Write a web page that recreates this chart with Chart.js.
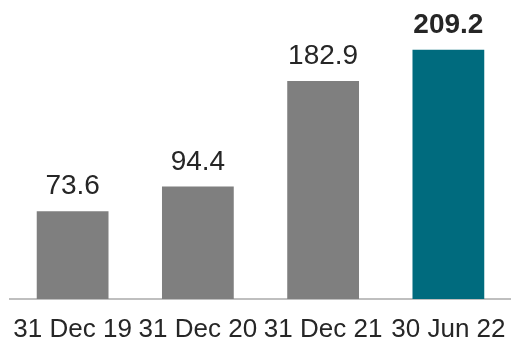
<!DOCTYPE html>
<html>
<head>
<meta charset="utf-8">
<script src="https://cdn.jsdelivr.net/npm/chart.js@4/dist/chart.umd.min.js"></script>
<style>
    html, body { margin: 0; padding: 0; background: #ffffff; }
    #wrap { width: 511px; height: 342px; }
</style>
</head>
<body>
<div id="wrap"><canvas id="fundsChart"></canvas></div>
<script>
var periods = ["31 Dec 19", "31 Dec 20", "31 Dec 21", "30 Jun 22"];
var amounts = [73.6, 94.4, 182.9, 209.2];
var barColours = ['#7f7f7f', '#7f7f7f', '#7f7f7f', '#006b7e'];

// value written above each bar, the latest one in bold
var valueLabels = {
    id: 'valueLabels',
    afterDatasetsDraw: function (chart) {
        var ctx = chart.ctx;
        var meta = chart.getDatasetMeta(0);
        ctx.save();
        ctx.fillStyle = '#262626';
        ctx.textAlign = 'center';
        ctx.textBaseline = 'alphabetic';
        meta.data.forEach(function (bar, i) {
            var last = i === amounts.length - 1;
            ctx.font = (last ? 'bold ' : '') + '28px "Liberation Sans", Arial, sans-serif';
            ctx.fillText(amounts[i].toFixed(1), bar.x, bar.y - 17);
        });
        ctx.restore();
    }
};

var canvas = document.getElementById("fundsChart");
var fundsChart = new Chart(canvas, {
    type: 'bar',
    data: {
        labels: periods,
        datasets: [{
            data: amounts,
            backgroundColor: barColours,
            borderWidth: 0,
            barPercentage: 0.573,
            categoryPercentage: 1
        }]
    },
    options: {
        responsive: true,
        maintainAspectRatio: false,
        animation: false,
        events: [],
        layout: {
            padding: { top: 0, left: 10, right: -2, bottom: 0 }
        },
        plugins: {
            legend: { display: false },
            tooltip: { enabled: false }
        },
        scales: {
            x: {
                grid: { display: false, drawTicks: false },
                border: { display: true, color: '#bfbfbf', width: 2 },
                ticks: {
                    color: '#262626',
                    padding: 15,
                    maxRotation: 0,
                    autoSkip: false,
                    font: { family: '"Liberation Sans", Arial, sans-serif', size: 26 }
                },
                // fixed axis band, labels allowed to run to the edges
                afterFit: function (scale) {
                    scale.height = 43;
                    scale.paddingLeft = 0;
                    scale.paddingRight = 0;
                }
            },
            y: {
                display: false,
                min: 0,
                max: 251
            }
        }
    },
    plugins: [valueLabels]
});
</script>
</body>
</html>
